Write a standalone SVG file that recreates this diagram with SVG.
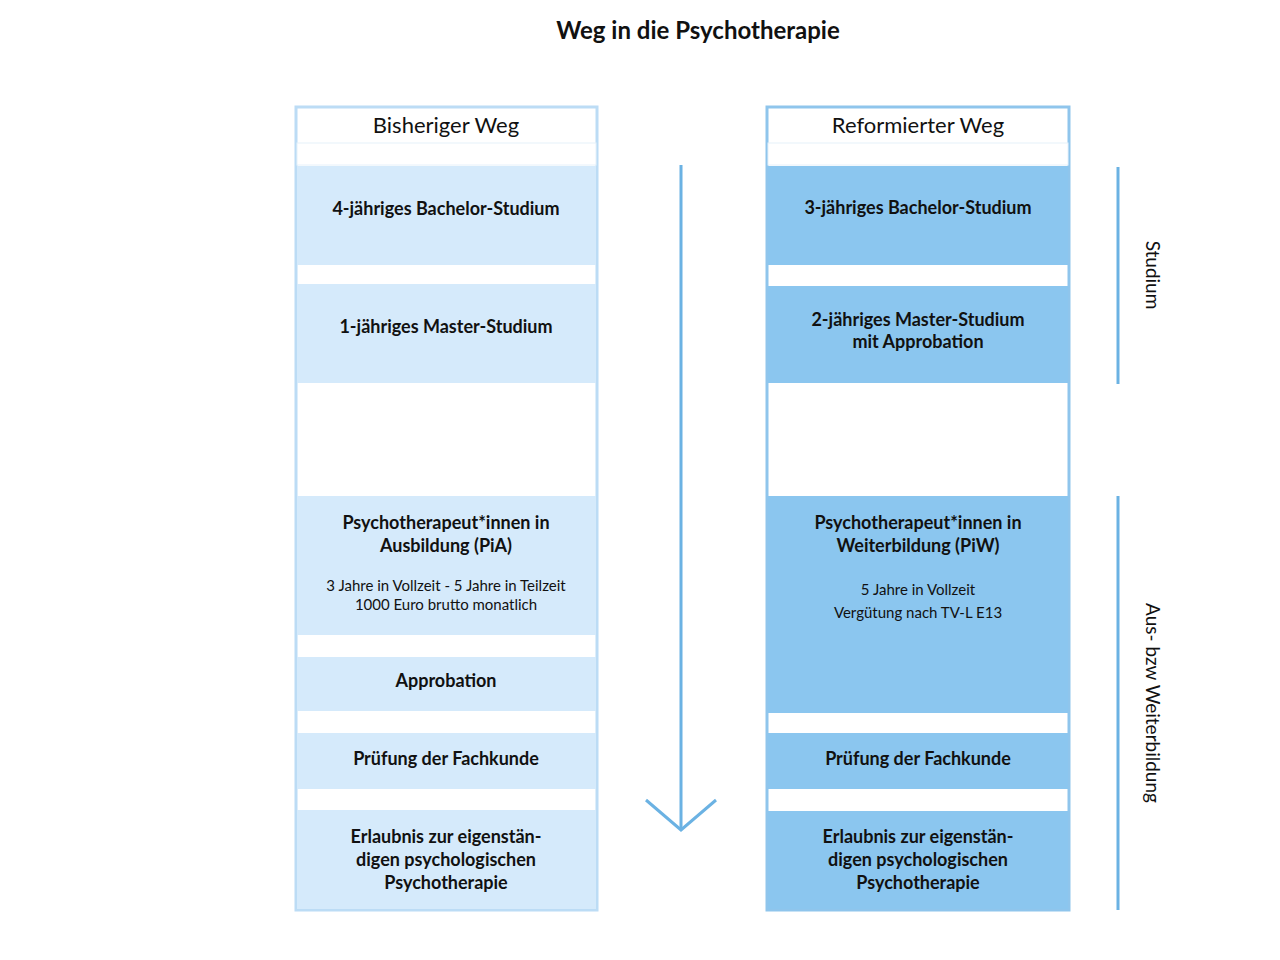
<svg xmlns="http://www.w3.org/2000/svg" width="1280" height="960" viewBox="0 0 1280 960">
<style>
text{font-family:Lato,"Liberation Sans",sans-serif;fill:#111;text-anchor:middle}
.h{font-size:22px}
.b{font-size:18px;font-weight:bold}
.s{font-size:15px}
.l{fill:#D5EAFB}
.r{fill:#8BC6EF}
.gl{fill:#fff;stroke:#BCDCF5;stroke-width:3}
.gr{fill:#fff;stroke:#8FC5EC;stroke-width:3}
.sep{fill:#fff;stroke:#E0EEF9;stroke-width:1}
</style>
<rect width="1280" height="960" fill="#fff"/>
<text x="698" y="39" style="font-size:24px;font-weight:bold">Weg in die Psychotherapie</text>
<g id="left">
<rect class="gl" x="296" y="107" width="301" height="803"/>
<rect x="297" y="143" width="299" height="22" fill="#fff" stroke="#E6F1FA"/>
<text class="h" x="446" y="133">Bisheriger Weg</text>
<g id="l1"><rect class="l" x="297" y="166" width="299" height="99"/><text class="b" x="446" y="215">4-jähriges Bachelor-Studium</text></g>
<g id="l2"><rect class="l" x="297" y="284" width="299" height="99"/><text class="b" x="446" y="333">1-jähriges Master-Studium</text></g>
<g id="l3"><rect class="l" x="297" y="496" width="299" height="139"/><text class="b" x="446" y="529">Psychotherapeut*innen in</text><text class="b" x="446" y="552">Ausbildung (PiA)</text><text class="s" x="446" y="591">3 Jahre in Vollzeit - 5 Jahre in Teilzeit</text><text class="s" x="446" y="610">1000 Euro brutto monatlich</text></g>
<g id="l4"><rect class="l" x="297" y="657" width="299" height="54"/><text class="b" x="446" y="687">Approbation</text></g>
<g id="l5"><rect class="l" x="297" y="733" width="299" height="56"/><text class="b" x="446" y="765">Prüfung der Fachkunde</text></g>
<g id="l6"><rect class="l" x="297" y="810" width="299" height="99"/><text class="b" x="446" y="843">Erlaubnis zur eigenstän-</text><text class="b" x="446" y="866">digen psychologischen</text><text class="b" x="446" y="889">Psychotherapie</text></g>
</g>
<g id="right">
<rect class="gr" x="767" y="107" width="302" height="803"/>
<rect x="768" y="143" width="300" height="22" fill="#fff" stroke="#E6F1FA"/>
<text class="h" x="918" y="133">Reformierter Weg</text>
<g id="r1"><rect class="r" x="768" y="166" width="300" height="99"/><text class="b" x="918" y="214">3-jähriges Bachelor-Studium</text></g>
<g id="r2"><rect class="r" x="768" y="286" width="300" height="97"/><text class="b" x="918" y="326">2-jähriges Master-Studium</text><text class="b" x="918" y="348">mit Approbation</text></g>
<g id="r3"><rect class="r" x="768" y="496" width="300" height="217"/><text class="b" x="918" y="529">Psychotherapeut*innen in</text><text class="b" x="918" y="552">Weiterbildung (PiW)</text><text class="s" x="918" y="595">5 Jahre in Vollzeit</text><text class="s" x="918" y="618">Vergütung nach TV-L E13</text></g>
<g id="r4"><rect class="r" x="768" y="733" width="300" height="56"/><text class="b" x="918" y="765">Prüfung der Fachkunde</text></g>
<g id="r5"><rect class="r" x="768" y="811" width="300" height="98"/><text class="b" x="918" y="843">Erlaubnis zur eigenstän-</text><text class="b" x="918" y="866">digen psychologischen</text><text class="b" x="918" y="889">Psychotherapie</text></g>
</g>
<g id="connectors" stroke="#6BB2E3" stroke-width="3" fill="none">
<line x1="681" y1="165" x2="681" y2="829"/>
<polyline points="646,800 681,830 716,800"/>
<line x1="1118" y1="167" x2="1118" y2="384"/>
<line x1="1118" y1="496" x2="1118" y2="910"/>
</g>
<g id="labels">
<text class="h" style="font-size:19px" transform="translate(1146,275) rotate(90)">Studium</text>
<text class="h" style="font-size:19px" transform="translate(1146,703) rotate(90)">Aus- bzw Weiterbildung</text>
</g>
</svg>
